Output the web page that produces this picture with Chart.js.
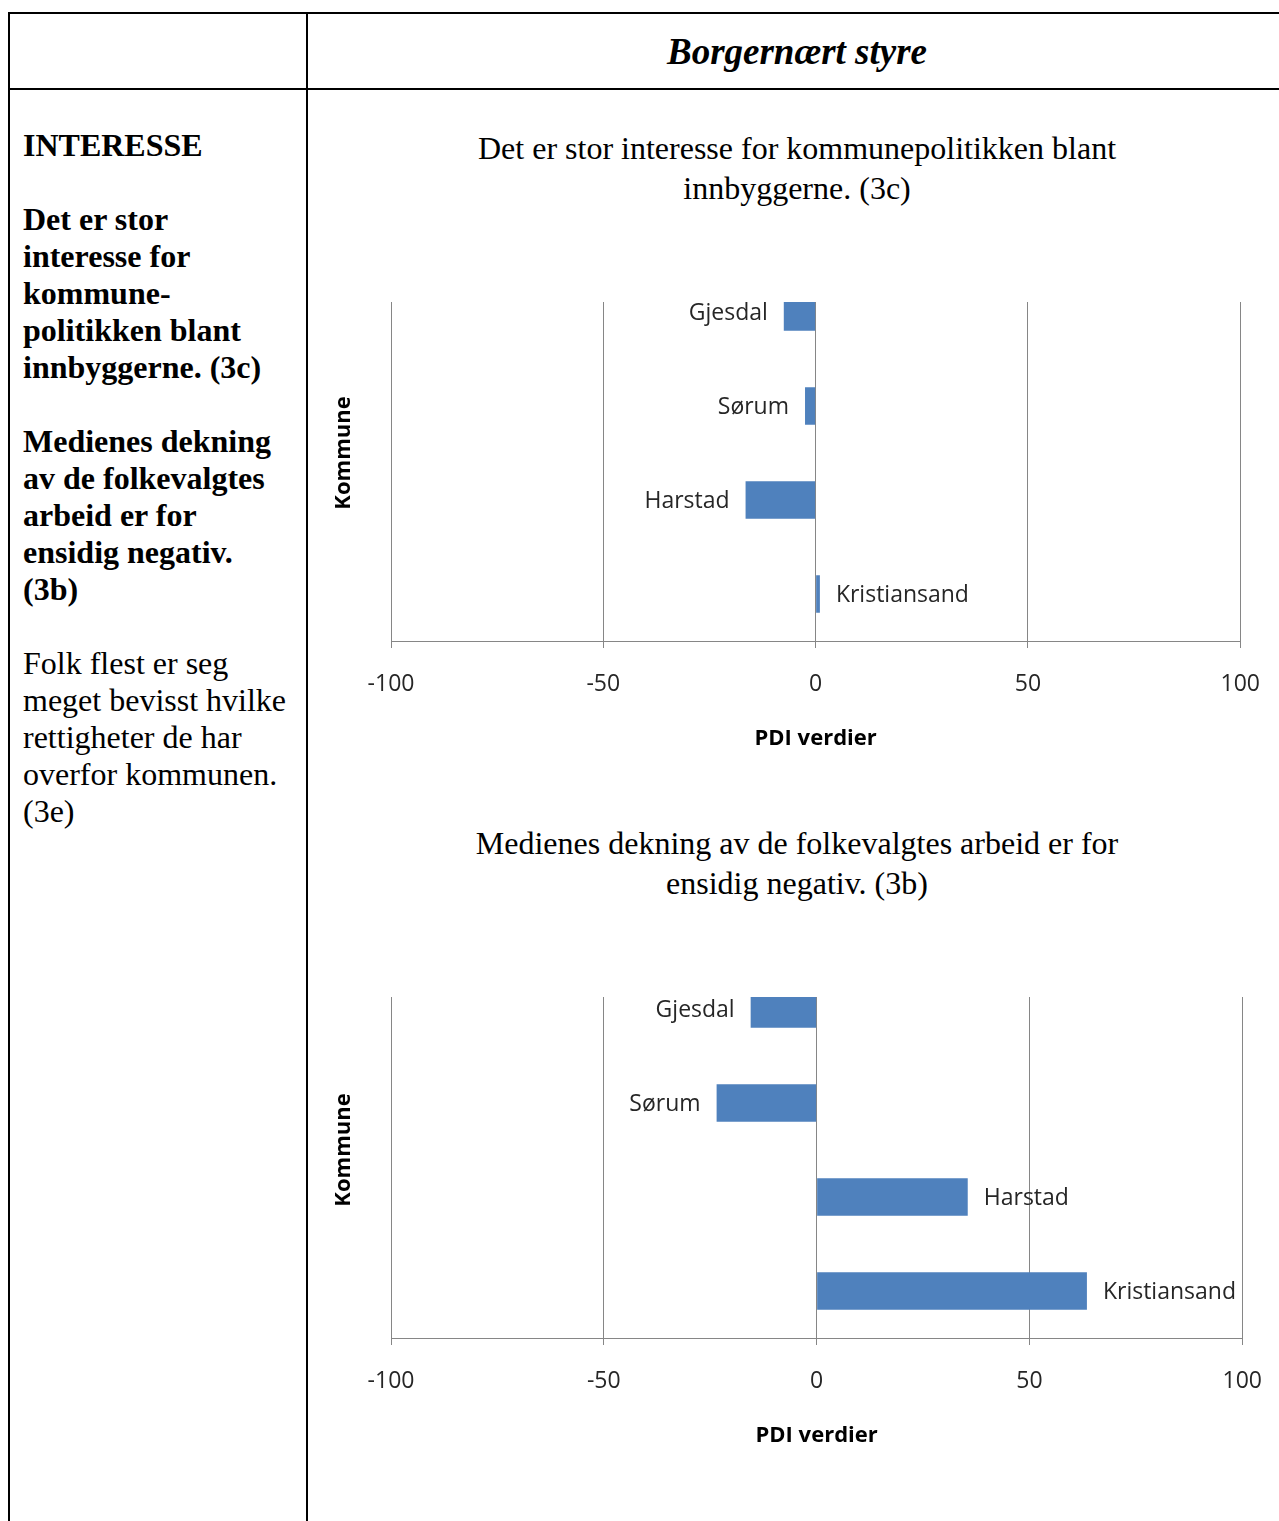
<!DOCTYPE html>
<html>
<head>
<meta charset="utf-8">
<script src="https://cdn.jsdelivr.net/npm/chart.js@4"></script>
<style>
  body { margin: 0; width: 1279px; height: 1521px; overflow: hidden; background: #fff; position: relative; }
  .line { position: absolute; background: #000; }
  .serif { font-family: "Liberation Serif", "Times New Roman", serif; color: #000; }
  .left-text { position: absolute; left: 23px; top: 127px; font-size: 32px; line-height: 37px; white-space: nowrap; }
  .left-text p { margin: 0 0 37px 0; }
  .head { position: absolute; left: 308px; width: 978px; top: 32px; text-align: center; font-size: 37px; line-height: 40px; font-weight: bold; font-style: italic; }
  .ctitle { position: absolute; left: 308px; width: 978px; text-align: center; font-size: 32px; line-height: 40px; }
  .clip { position: absolute; left: 320px; width: 980px; height: 480px; overflow: hidden; }
  .clip canvas { position: absolute; left: 0; }
</style>
</head>
<body>
<div class="line" style="left:8px; top:12px; width:1290px; height:2px;"></div>
<div class="line" style="left:8px; top:12px; width:2px; height:1600px;"></div>
<div class="line" style="left:306px; top:12px; width:2px; height:1600px;"></div>
<div class="line" style="left:8px; top:88px; width:1290px; height:2px;"></div>

<div class="head serif">Borgernært styre</div>

<div class="left-text serif">
  <p><b>INTERESSE</b></p>
  <p><b>Det er stor<br>interesse for<br>kommune-<br>politikken blant<br>innbyggerne. (3c)</b></p>
  <p><b>Medienes dekning<br>av de folkevalgtes<br>arbeid er for<br>ensidig negativ.<br>(3b)</b></p>
  <p>Folk flest er seg<br>meget bevisst hvilke<br>rettigheter de har<br>overfor kommunen.<br>(3e)</p>
</div>

<div class="ctitle serif" style="top:128px;">Det er stor interesse for kommunepolitikken blant<br>innbyggerne. (3c)</div>
<div class="ctitle serif" style="top:823px;">Medienes dekning av de folkevalgtes arbeid er for<br>ensidig negativ. (3b)</div>

<div class="clip" style="top:302px;"><canvas id="chart1" width="963" height="520" style="top:-47px;"></canvas></div>
<div class="clip" style="top:997px;"><canvas id="chart2" width="965" height="520" style="top:-45px;"></canvas></div>

<script>
const kommuner = ["Gjesdal", "Sørum", "Harstad", "Kristiansand"];
const interesse3c = [-7.5, -2.5, -16.5, 1];
const medier3b = [-15.5, -23.5, 35.5, 63.5];
const xTicks = [-100, -50, 0, 50, 100];

const FONT = '"Open Sans", "DejaVu Sans", sans-serif';
const BAR = "#4f81bd";
const GRID = "#868686";

// category name next to the end of each bar, like Excel's data labels
const barNames = {
  id: "barNames",
  afterDatasetsDraw(chart) {
    const ctx = chart.ctx;
    const meta = chart.getDatasetMeta(0);
    ctx.save();
    ctx.font = "23px " + FONT;
    ctx.fillStyle = "#262626";
    ctx.textBaseline = "middle";
    meta.data.forEach((bar, i) => {
      const v = chart.data.datasets[0].data[i];
      if (v < 0) {
        ctx.textAlign = "right";
        ctx.fillText(chart.data.labels[i], bar.x - 16, bar.y + 1);
      } else {
        ctx.textAlign = "left";
        ctx.fillText(chart.data.labels[i], bar.x + 16, bar.y + 1);
      }
    });
    ctx.restore();
  }
};

const makeChart = (id, values) => {
  const ctx = document.getElementById(id).getContext("2d");
  return new Chart(ctx, {
    type: "bar",
    data: {
      labels: kommuner,
      datasets: [{
        data: values,
        backgroundColor: BAR,
        borderWidth: 0,
        categoryPercentage: 1,
        barPercentage: 0.4,
      }],
    },
    options: {
      indexAxis: "y",
      responsive: false,
      animation: false,
      layout: { padding: { top: 10, right: 30, left: 0, bottom: 0 } },
      plugins: { legend: { display: false }, tooltip: { enabled: false } },
      scales: {
        x: {
          min: xTicks[0],
          max: xTicks[xTicks.length - 1],
          afterBuildTicks: (s) => { s.ticks = xTicks.map((v) => ({ value: v })); },
          ticks: { padding: 23, color: "#262626", font: { family: FONT, size: 23 } },
          grid: { color: GRID, tickLength: 7, lineWidth: 1 },
          border: { color: GRID },
          title: {
            display: true, text: "PDI verdier", color: "#000",
            font: { family: FONT, size: 22, weight: "bold" },
            padding: { top: 0, bottom: 23 },
          },
          afterFit: (s) => { s.height = 134; },
        },
        y: {
          ticks: { display: false },
          grid: { display: false },
          border: { display: false },
          title: {
            display: true, text: "Kommune", color: "#000",
            font: { family: FONT, size: 22, weight: "bold" },
            padding: { top: 11, bottom: 0 },
          },
          afterFit: (s) => { s.width = 71; },
        },
      },
    },
    plugins: [barNames],
  });
};

makeChart("chart1", interesse3c);
makeChart("chart2", medier3b);
</script>
</body>
</html>
